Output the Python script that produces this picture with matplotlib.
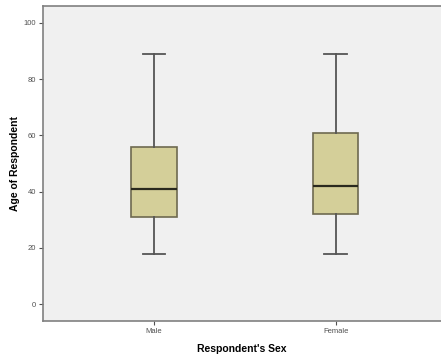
import matplotlib
matplotlib.use("Agg")
import matplotlib.pyplot as plt

plt.rcParams["font.family"] = ["Liberation Sans", "DejaVu Sans"]

# values
groups = ["Male", "Female"]
whislo = [18, 18]
q1 = [31, 32]
med = [41, 42]
q3 = [56, 61]
whishi = [89, 89]
yticks = [0, 20, 40, 60, 80, 100]

stats = []
for i in range(len(groups)):
    stats.append({"label": groups[i], "whislo": whislo[i], "q1": q1[i],
                  "med": med[i], "q3": q3[i], "whishi": whishi[i], "fliers": []})

fig = plt.figure(figsize=(4.41, 3.58), dpi=100)
ax = fig.add_axes([43/441, 37/358, 1 - 43/441, (321 - 6)/358])
ax.set_facecolor("#f0f0f0")

ax.bxp(stats, positions=[1, 2], widths=0.25, capwidths=0.125, patch_artist=True,
       boxprops=dict(facecolor="#d4cf99", edgecolor="#6e6a50", linewidth=1.2),
       medianprops=dict(color="#2a2a1e", linewidth=1.6),
       whiskerprops=dict(color="#555555", linewidth=1.3),
       capprops=dict(color="#555555", linewidth=1.3))

ax.set_xlim(0.389, 2.58)
ax.set_ylim(-6, 106)
ax.set_yticks(yticks)
ax.set_yticklabels([str(t) for t in yticks])
ax.tick_params(labelsize=5.5, colors="#505050", length=3, width=0.8, pad=2)

for s in ["left", "bottom", "top"]:
    ax.spines[s].set_color("#808080")
    ax.spines[s].set_linewidth(1.2)
ax.spines["right"].set_visible(False)

ax.set_xlabel("Respondent's Sex", fontsize=7.5, fontweight="bold", va="center")
ax.xaxis.set_label_coords(0.5, -0.089)
ax.set_ylabel("Age of Respondent", fontsize=7.5, fontweight="bold", va="center")
ax.yaxis.set_label_coords(-0.070, 0.5)

fig.savefig("out.png", dpi=100)
